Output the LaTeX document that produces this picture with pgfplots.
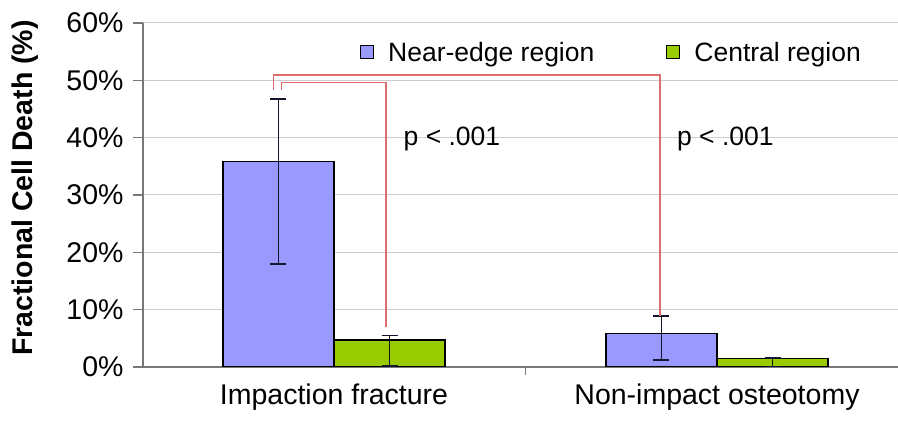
\documentclass[border=0pt]{standalone}
\usepackage{fontspec}
\setmainfont{Liberation Sans}
\usepackage{pgfplots}
\pgfplotsset{compat=1.18}
\definecolor{barblue}{RGB}{153,153,255}
\definecolor{bargreen}{RGB}{153,204,0}
\definecolor{sigred}{RGB}{222,110,110}
\definecolor{gridgray}{RGB}{205,205,205}
\definecolor{axisgray}{RGB}{120,120,120}
\definecolor{errcol}{RGB}{20,20,45}

% x = category position (0, 1) shifted to the bar centre
\pgfplotstableread{
x y ep em
-0.145 35.8 10.9 17.8
0.855 5.8 3.15 4.6
}\nearedge
\pgfplotstableread{
x y ep em
0.145 4.7 0.8 4.5
1.145 1.5 0.1 1.5
}\central

\begin{document}
\begin{tikzpicture}
\begin{axis}[
  scale only axis, width=755bp, height=344bp,
  xmin=-0.4987, xmax=1.4726, ymin=0, ymax=60,
  axis x line*=bottom, axis y line*=left,
  axis line style={-, draw=axisgray, line width=1.2bp},
  ytick={0,10,...,60},
  yticklabel={\pgfmathprintnumber{\tick}\%},
  /pgf/number format/assume math mode=true,
  xtick={0,1},
  xticklabels={Impaction fracture, Non-impact osteotomy},
  minor xtick={-0.5,0.5},
  tick align=outside,
  major tick length=10bp, minor tick length=8bp,
  major x tick style={draw=none},
  minor x tick style={draw=axisgray, line width=1.2bp},
  ytick style={draw=axisgray, line width=1.2bp},
  ymajorgrids, grid style={draw=gridgray, line width=1bp},
  ticklabel style={font=\fontsize{28.5bp}{32bp}\selectfont},
  xticklabel shift=3bp,
  yticklabel shift=6bp,
  ylabel={\bfseries Fractional Cell Death (\%)},
  ylabel style={at={(axis description cs:-0.1563,0.52)}, anchor=center, font=\fontsize{28.5bp}{32bp}\selectfont},
  legend style={at={(0.2874,0.915)}, anchor=west, draw=none, fill=none, inner sep=0pt,
    legend columns=2, font=\fontsize{26.5bp}{30bp}\selectfont,
    /tikz/every odd column/.append style={column sep=12bp},
    /tikz/every even column/.append style={column sep=70bp}},
  legend cell align=left,
  legend image code/.code={\draw[#1, draw=black, line width=1bp] (0bp,-6.5bp) rectangle (13bp,6.5bp);},
]
\addplot[ybar, bar width=0.29, bar shift=0, fill=barblue, draw=black, line width=1.2bp,
  error bars/.cd, y dir=both, y explicit,
  error bar style={line width=1.8bp, draw=errcol},
  error mark options={rotate=90, mark size=8bp, line width=1.8bp, draw=errcol}]
  table[x=x, y=y, y error plus=ep, y error minus=em] {\nearedge};
\addlegendentry{Near-edge region}
\addplot[ybar, bar width=0.29, bar shift=0, fill=bargreen, draw=black, line width=1.2bp,
  error bars/.cd, y dir=both, y explicit,
  error bar style={line width=1.8bp, draw=errcol},
  error mark options={rotate=90, mark size=8bp, line width=1.8bp, draw=errcol}]
  table[x=x, y=y, y error plus=ep, y error minus=em] {\central};
\addlegendentry{Central region}
\draw[sigred, line width=1.5bp] (axis cs:-0.158,48.3) |- (axis cs:0.851,50.9) -- (axis cs:0.851,8.95);
\draw[sigred, line width=1.5bp] (axis cs:-0.137,48.3) |- (axis cs:0.136,49.6) -- (axis cs:0.136,7.0);
\node[anchor=base, font=\fontsize{26.5bp}{30bp}\selectfont] at (axis cs:0.308,38.7) {p < .001};
\node[anchor=base, font=\fontsize{26.5bp}{30bp}\selectfont] at (axis cs:1.022,38.7) {p < .001};
\end{axis}
\pgfresetboundingbox
\path[use as bounding box] ([xshift=-143bp,yshift=-56bp]current axis.south west) rectangle ([yshift=23bp]current axis.north east);
\end{tikzpicture}
\end{document}
